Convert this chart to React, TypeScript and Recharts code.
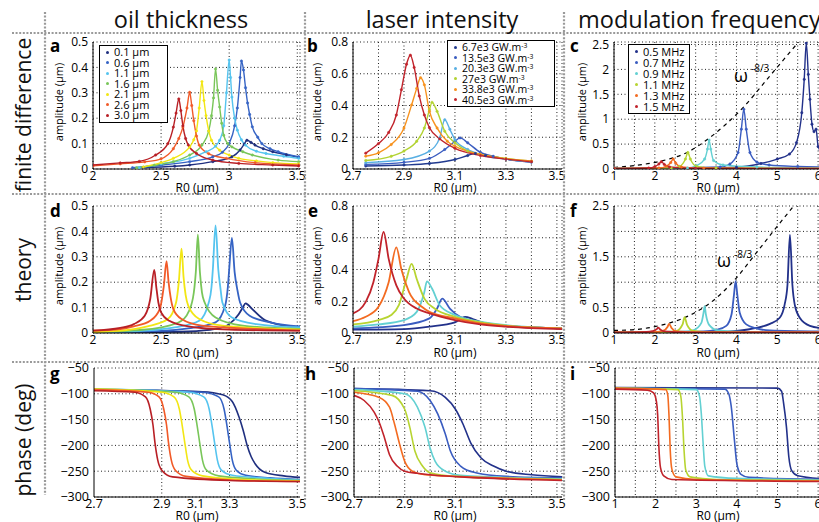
import React from 'react';
import { LineChart, Line, XAxis, YAxis, CartesianGrid, ReferenceLine } from 'recharts';

const FONT = '"Open Sans", "DejaVu Sans", sans-serif';

// series colours and legend labels
const OIL_COLORS = ['#1f2f7f', '#3563c4', '#55c4ef', '#79c659', '#f2e614', '#f15a28', '#b81f25'];
const OIL_LABELS = ['0.1 µm', '0.6 µm', '1.1 µm', '1.6 µm', '2.1 µm', '2.6 µm', '3.0 µm'];
const LASER_COLORS = ['#213a8f', '#3a5cc0', '#58afe3', '#b3d333', '#f7921e', '#c1232b'];
const LASER_LABELS = ['6.7e3', '13.5e3', '20.3e3', '27e3', '33.8e3', '40.5e3'];
const FREQ_COLORS = ['#22318a', '#3a5cc0', '#63d0d2', '#b7d431', '#f36b21', '#c1232b'];
const FREQ_LABELS = ['0.5 MHz', '0.7 MHz', '0.9 MHz', '1.1 MHz', '1.3 MHz', '1.5 MHz'];

// ticks / tick labels
const X1_TICKS = [2, 2.5, 3, 3.5];
const X1_LABELS = ['2', '2.5', '3', '3.5'];
const X2_TICKS = [2.7, 2.8, 2.9, 3.0, 3.1, 3.2, 3.3, 3.4, 3.5];
const X2_LABELS = ['2.7', '', '2.9', '', '3.1', '', '3.3', '', '3.5'];
const X3_TICKS = [1, 1.5, 2, 2.5, 3, 3.5, 4, 4.5, 5, 5.5, 6];
const X3_LABELS = ['1', '', '2', '', '3', '', '4', '', '5', '', '6'];
const G_TICKS = [2, 2.5, 2.75, 3, 3.5];
const G_LABELS = ['2.7', '2.9', '3.1', '3.3', '3.5'];
const G_GRID = [2.5, 3, 3.5];
const AMP1_TICKS = [0, 0.1, 0.2, 0.3, 0.4, 0.5];
const AMP1_LABELS = ['0', '0.1', '0.2', '0.3', '0.4', '0.5'];
const AMP2_TICKS = [0, 0.2, 0.4, 0.6, 0.8];
const AMP2_LABELS = ['0', '0.2', '0.4', '0.6', '0.8'];
const AMP3_TICKS = [0, 0.5, 1, 1.5, 2, 2.5];
const C_YLABELS = ['0', '0.5', '1', '1.5', '2', '2.5'];
const F_YLABELS = ['0', '0.5', '', '1.5', '', '2.5'];
const PHASE_TICKS = [-300, -250, -200, -150, -100, -50];
const PHASE_LABELS = ['−300', '−250', '−200', '−150', '−100', '−50'];

// a: finite difference, oil thickness
const A_01 = [[2.37,0.006],[2.6,0.011],[2.71,0.016],[2.88,0.029],[3.02,0.048],[3.08,0.075],[3.11,0.098],[3.13,0.113],[3.16,0.105],[3.19,0.094],[3.25,0.08],[3.32,0.068],[3.42,0.056],[3.51,0.046]];
const A_06 = [[2.29,0.005],[2.5,0.015],[2.71,0.029],[2.88,0.048],[2.95,0.066],[3.0,0.1],[3.04,0.17],[3.06,0.24],[3.08,0.36],[3.09,0.425],[3.105,0.39],[3.12,0.32],[3.135,0.26],[3.15,0.215],[3.17,0.166],[3.21,0.125],[3.24,0.1],[3.3,0.08],[3.36,0.068],[3.51,0.048]];
const A_11 = [[2.34,0.005],[2.5,0.02],[2.71,0.042],[2.83,0.068],[2.9,0.09],[2.93,0.113],[2.96,0.17],[2.98,0.3],[3.0,0.429],[3.01,0.36],[3.02,0.283],[3.04,0.2],[3.06,0.153],[3.09,0.115],[3.12,0.094],[3.2,0.07],[3.27,0.061],[3.4,0.05],[3.51,0.042]];
const A_16 = [[2.32,0.005],[2.45,0.015],[2.59,0.029],[2.71,0.055],[2.8,0.094],[2.85,0.15],[2.87,0.21],[2.885,0.28],[2.9,0.394],[2.915,0.31],[2.93,0.244],[2.945,0.18],[2.96,0.133],[2.99,0.1],[3.02,0.087],[3.1,0.068],[3.17,0.055],[3.36,0.035],[3.51,0.029]];
const A_21 = [[2.37,0.008],[2.5,0.025],[2.59,0.042],[2.71,0.087],[2.74,0.115],[2.76,0.15],[2.78,0.24],[2.8,0.344],[2.815,0.27],[2.83,0.21],[2.85,0.15],[2.87,0.113],[2.93,0.074],[3.0,0.055],[3.07,0.042],[3.2,0.032],[3.32,0.025],[3.51,0.02]];
const A_26 = [[2.0,0.012],[2.2,0.02],[2.38,0.028],[2.5,0.04],[2.59,0.08],[2.63,0.12],[2.66,0.165],[2.69,0.24],[2.71,0.302],[2.725,0.25],[2.74,0.19],[2.76,0.13],[2.78,0.094],[2.85,0.06],[2.98,0.042],[3.19,0.025],[3.51,0.016]];
const A_30 = [[2.0,0.016],[2.2,0.024],[2.34,0.03],[2.46,0.055],[2.55,0.1],[2.59,0.165],[2.61,0.22],[2.63,0.276],[2.645,0.23],[2.66,0.17],[2.68,0.12],[2.7,0.094],[2.76,0.061],[2.88,0.035],[3.07,0.022],[3.32,0.016],[3.51,0.012]];

// b: finite difference, laser intensity
const B_67 = [[2.75,0.019],[2.9,0.025],[3.0,0.035],[3.1,0.06],[3.15,0.085],[3.18,0.098],[3.22,0.086],[3.3,0.062],[3.4,0.044]];
const B_135 = [[2.75,0.029],[2.9,0.042],[3.0,0.067],[3.06,0.123],[3.1,0.175],[3.12,0.196],[3.15,0.165],[3.2,0.105],[3.25,0.08],[3.3,0.062],[3.4,0.044]];
const B_203 = [[2.75,0.04],[2.9,0.06],[3.0,0.113],[3.04,0.196],[3.06,0.31],[3.08,0.25],[3.1,0.185],[3.15,0.123],[3.2,0.09],[3.3,0.062],[3.4,0.045]];
const B_27 = [[2.75,0.054],[2.85,0.08],[2.9,0.113],[2.95,0.175],[2.98,0.258],[3.0,0.373],[3.01,0.42],[3.03,0.363],[3.06,0.238],[3.1,0.165],[3.15,0.113],[3.2,0.092],[3.3,0.067],[3.4,0.05]];
const B_338 = [[2.75,0.081],[2.8,0.102],[2.85,0.154],[2.9,0.258],[2.93,0.404],[2.95,0.508],[2.965,0.575],[2.98,0.53],[3.0,0.363],[3.03,0.258],[3.07,0.175],[3.1,0.144],[3.2,0.092],[3.3,0.065],[3.4,0.05]];
const B_405 = [[2.75,0.1],[2.8,0.16],[2.84,0.23],[2.87,0.34],[2.89,0.5],[2.91,0.66],[2.925,0.717],[2.94,0.64],[2.96,0.46],[2.98,0.34],[3.0,0.26],[3.04,0.19],[3.1,0.13],[3.2,0.085],[3.3,0.062],[3.4,0.046]];

// c: finite difference, modulation frequency
const C_05 = [[1,0.01],[3,0.012],[4,0.035],[4.6,0.11],[5.0,0.2],[5.3,0.3],[5.47,0.53],[5.6,1.13],[5.66,1.8],[5.71,2.53],[5.76,1.9],[5.8,1.4],[5.85,0.9],[5.9,0.75],[5.95,0.8],[6.0,0.45],[6.05,0.38],[6.12,0.3]];
const C_07 = [[1,0.01],[3.6,0.04],[3.84,0.1],[4.04,0.33],[4.12,0.8],[4.18,1.2],[4.24,0.8],[4.33,0.33],[4.5,0.14],[4.8,0.08],[5.5,0.05],[6.12,0.04]];
const C_09 = [[1,0.01],[2.8,0.02],[3.02,0.067],[3.22,0.2],[3.29,0.4],[3.33,0.58],[3.37,0.4],[3.44,0.17],[3.67,0.08],[4.5,0.04],[6.12,0.02]];
const C_11 = [[1,0.01],[2.4,0.02],[2.61,0.053],[2.75,0.2],[2.81,0.33],[2.87,0.2],[3.02,0.053],[3.5,0.02],[6.12,0.01]];
const C_13 = [[1,0.01],[2.1,0.02],[2.28,0.053],[2.39,0.13],[2.45,0.2],[2.51,0.12],[2.65,0.04],[3.2,0.015],[6.12,0.01]];
const C_15 = [[1,0.012],[1.85,0.02],[2.0,0.047],[2.1,0.1],[2.16,0.147],[2.23,0.093],[2.36,0.04],[3.0,0.015],[6.12,0.01]];
const C_SLOPE = [[1,0.03],[1.5,0.07],[2.16,0.16],[2.81,0.34],[3.33,0.62],[4.18,1.25],[4.82,1.87],[5.52,2.55]];

// d: theory, oil thickness
const D_01 = [[2.0,0.002],[2.5,0.004],[2.7,0.006],[2.9,0.016],[3.0,0.035],[3.07,0.074],[3.1,0.1],[3.12,0.117],[3.14,0.11],[3.17,0.094],[3.25,0.055],[3.35,0.035],[3.52,0.022]];
const D_06 = [[2.0,0.002],[2.5,0.008],[2.7,0.018],[2.9,0.042],[2.97,0.107],[2.99,0.18],[3.0,0.25],[3.02,0.374],[3.04,0.24],[3.06,0.17],[3.08,0.12],[3.15,0.068],[3.3,0.042],[3.52,0.026]];
const D_11 = [[2.0,0.002],[2.4,0.01],[2.6,0.022],[2.78,0.048],[2.85,0.12],[2.87,0.18],[2.88,0.25],[2.9,0.424],[2.92,0.25],[2.935,0.18],[2.95,0.12],[3.02,0.061],[3.2,0.035],[3.52,0.022]];
const D_16 = [[2.0,0.003],[2.3,0.01],[2.5,0.022],[2.65,0.048],[2.72,0.107],[2.745,0.18],[2.755,0.24],[2.77,0.387],[2.785,0.24],[2.8,0.16],[2.82,0.12],[2.9,0.061],[3.1,0.029],[3.52,0.016]];
const D_21 = [[2.0,0.003],[2.3,0.015],[2.4,0.026],[2.55,0.055],[2.61,0.12],[2.63,0.2],[2.65,0.332],[2.665,0.22],[2.68,0.15],[2.7,0.107],[2.78,0.055],[2.95,0.029],[3.52,0.013]];
const D_26 = [[2.0,0.009],[2.2,0.015],[2.3,0.026],[2.42,0.048],[2.49,0.094],[2.52,0.185],[2.54,0.283],[2.555,0.2],[2.57,0.14],[2.59,0.094],[2.65,0.055],[2.8,0.029],[3.2,0.016],[3.52,0.009]];
const D_30 = [[2.0,0.009],[2.2,0.02],[2.3,0.035],[2.38,0.068],[2.42,0.133],[2.45,0.248],[2.465,0.18],[2.48,0.12],[2.5,0.081],[2.56,0.048],[2.7,0.026],[3.0,0.013],[3.52,0.009]];

// e: theory, laser intensity
const E_NAV = [[2.7,0.021],[2.9,0.025],[3.0,0.04],[3.1,0.067],[3.14,0.102],[3.17,0.088],[3.22,0.06],[3.3,0.044],[3.52,0.029]];
const E_BLU = [[2.7,0.029],[2.9,0.05],[3.0,0.092],[3.03,0.154],[3.05,0.217],[3.08,0.154],[3.12,0.102],[3.2,0.067],[3.3,0.046],[3.52,0.029]];
const E_TUR = [[2.7,0.04],[2.8,0.054],[2.9,0.081],[2.95,0.133],[2.98,0.258],[2.99,0.325],[3.01,0.28],[3.04,0.175],[3.1,0.113],[3.2,0.071],[3.3,0.05],[3.52,0.029]];
const E_LIM = [[2.7,0.054],[2.8,0.081],[2.85,0.113],[2.88,0.175],[2.91,0.34],[2.93,0.435],[2.95,0.34],[2.98,0.217],[3.02,0.154],[3.1,0.102],[3.2,0.067],[3.3,0.046],[3.52,0.029]];
const E_ORA = [[2.7,0.075],[2.75,0.102],[2.8,0.165],[2.84,0.32],[2.87,0.54],[2.89,0.4],[2.92,0.258],[2.97,0.165],[3.0,0.133],[3.1,0.092],[3.2,0.06],[3.3,0.044],[3.52,0.029]];
const E_RED = [[2.7,0.123],[2.75,0.196],[2.78,0.32],[2.8,0.467],[2.82,0.637],[2.84,0.467],[2.87,0.3],[2.9,0.217],[2.95,0.154],[3.0,0.123],[3.1,0.081],[3.2,0.054],[3.3,0.04],[3.52,0.025]];

// f: theory, modulation frequency
const F_05 = [[1,0.01],[3.6,0.02],[4.0,0.04],[4.49,0.1],[4.82,0.18],[5.06,0.3],[5.18,0.56],[5.25,0.95],[5.31,1.93],[5.37,0.95],[5.43,0.55],[5.55,0.3],[5.8,0.14],[6.12,0.09]];
const F_07 = [[1,0.01],[3.2,0.03],[3.51,0.06],[3.75,0.14],[3.88,0.37],[3.94,0.76],[3.98,1.02],[4.02,0.76],[4.08,0.4],[4.24,0.17],[4.49,0.09],[4.82,0.05],[6.12,0.03]];
const F_09 = [[1,0.01],[2.8,0.03],[2.94,0.05],[3.14,0.2],[3.2,0.43],[3.22,0.53],[3.25,0.37],[3.33,0.16],[3.55,0.05],[4.2,0.02],[6.12,0.01]];
const F_11 = [[1,0.01],[2.3,0.02],[2.53,0.04],[2.68,0.17],[2.73,0.31],[2.79,0.16],[2.94,0.04],[3.4,0.015],[6.12,0.01]];
const F_13 = [[1,0.01],[2.05,0.02],[2.2,0.04],[2.31,0.12],[2.35,0.18],[2.41,0.1],[2.53,0.03],[3.2,0.01],[6.12,0.01]];
const F_15 = [[1,0.01],[1.8,0.02],[1.94,0.035],[2.04,0.07],[2.08,0.105],[2.14,0.065],[2.24,0.03],[2.8,0.01],[6.12,0.01]];
const F_SLOPE = [[1,0.05],[1.55,0.07],[2.08,0.14],[2.37,0.2],[2.86,0.35],[3.37,0.6],[3.96,1.05],[4.49,1.58],[4.9,2.0],[5.31,2.41],[5.4,2.5]];

// g: theory phase, oil thickness (drawn on the a/d axis)
const G_01 = [[2.0,-92],[2.8,-96],[2.95,-102],[3.02,-115],[3.07,-145],[3.1,-170],[3.13,-200],[3.16,-222],[3.19,-236],[3.26,-252],[3.4,-259],[3.52,-262]];
const G_06 = [[2.0,-92],[2.8,-97],[2.92,-106],[2.96,-130],[2.98,-160],[3.0,-195],[3.02,-228],[3.05,-248],[3.12,-258],[3.3,-263],[3.52,-266]];
const G_11 = [[2.0,-91],[2.7,-97],[2.81,-106],[2.85,-130],[2.87,-160],[2.89,-195],[2.91,-228],[2.94,-248],[3.02,-258],[3.3,-264],[3.52,-267]];
const G_16 = [[2.0,-91],[2.6,-97],[2.7,-106],[2.74,-130],[2.76,-160],[2.78,-195],[2.8,-228],[2.83,-248],[2.92,-259],[3.2,-265],[3.52,-268]];
const G_21 = [[2.0,-91],[2.5,-97],[2.59,-106],[2.63,-130],[2.65,-160],[2.67,-195],[2.69,-228],[2.72,-248],[2.8,-259],[3.1,-266],[3.52,-269]];
const G_26 = [[2.0,-92],[2.4,-97],[2.48,-106],[2.515,-130],[2.535,-160],[2.55,-195],[2.57,-228],[2.6,-248],[2.68,-260],[3.0,-267],[3.52,-270]];
const G_30 = [[2.0,-94],[2.3,-97],[2.38,-106],[2.415,-130],[2.435,-160],[2.45,-195],[2.47,-228],[2.5,-248],[2.58,-261],[3.0,-268],[3.52,-270]];

// h: theory phase, laser intensity
const H_NAV = [[2.7,-90],[3.0,-94],[3.06,-107],[3.1,-130],[3.13,-159],[3.16,-195],[3.2,-224],[3.25,-240],[3.3,-250],[3.4,-257],[3.52,-261]];
const H_BLU = [[2.7,-90],[2.95,-95],[3.0,-113],[3.03,-139],[3.06,-178],[3.08,-211],[3.12,-240],[3.18,-253],[3.3,-260],[3.52,-263]];
const H_TUR = [[2.7,-92],[2.9,-100],[2.95,-126],[2.98,-165],[3.0,-205],[3.02,-231],[3.06,-250],[3.12,-258],[3.52,-265]];
const H_LIM = [[2.7,-94],[2.85,-103],[2.9,-130],[2.92,-165],[2.94,-211],[2.97,-240],[3.0,-253],[3.1,-260],[3.52,-266]];
const H_ORA = [[2.7,-97],[2.8,-107],[2.84,-126],[2.86,-159],[2.88,-198],[2.9,-231],[2.93,-250],[2.98,-257],[3.2,-262],[3.52,-267]];
const H_RED = [[2.7,-103],[2.74,-113],[2.78,-136],[2.8,-156],[2.82,-185],[2.84,-218],[2.87,-240],[2.9,-250],[2.95,-254],[3.0,-257],[3.2,-263],[3.52,-268]];

// i: theory phase, modulation frequency
const I_05 = [[1,-88],[5.0,-89],[5.1,-95],[5.15,-118],[5.22,-164],[5.28,-223],[5.35,-249],[5.5,-259],[6.12,-265]];
const I_07 = [[1,-89],[3.7,-91],[3.8,-100],[3.86,-124],[3.94,-190],[4.0,-236],[4.1,-256],[4.3,-262],[6.12,-266]];
const I_09 = [[1,-89],[3.0,-92],[3.08,-105],[3.12,-134],[3.17,-197],[3.21,-240],[3.3,-259],[4.0,-264],[6.12,-267]];
const I_11 = [[1,-89],[2.55,-92],[2.62,-105],[2.66,-144],[2.7,-210],[2.74,-247],[2.85,-261],[3.5,-266],[6.12,-268]];
const I_13 = [[1,-89],[2.25,-92],[2.3,-103],[2.33,-144],[2.36,-210],[2.4,-246],[2.5,-261],[3.0,-266],[6.12,-269]];
const I_15 = [[1,-91],[1.8,-93],[1.95,-98],[2.02,-115],[2.05,-140],[2.08,-203],[2.12,-243],[2.2,-259],[2.4,-266],[6.12,-270]];

const lab = (ticks: number[], labels: string[]) => (v: number) => {
  const i = ticks.findIndex(t => Math.abs(t - v) < 1e-6);
  return i >= 0 ? labels[i] : '';
};

const toPts = (c: number[][]) => c.map(([x, y]) => ({ x, y }));

interface PanelProps {
  left: number; top: number; w: number; h: number;
  xDomain: number[]; yDomain: number[];
  xTicks: number[]; xLabels: string[];
  yTicks: number[]; yLabels: string[];
  curves: number[][][]; colors: string[];
  dots?: boolean; slope?: number[][]; font: number; lw: number;
  vGrid?: number[];
}

function Panel(p: PanelProps) {
  const tick = { fill: '#000', fontSize: p.font, fontFamily: FONT };
  return (
    <div style={{ position: 'absolute', left: p.left - 45, top: p.top - 10 }}>
      <LineChart width={p.w + 60} height={p.h + 35} margin={{ top: 10, right: 15, left: 0, bottom: 0 }}>
        <CartesianGrid stroke="#222" strokeDasharray="1 2.5" vertical={!p.vGrid} />
        <XAxis type="number" dataKey="x" domain={p.xDomain} ticks={p.xTicks} interval={0}
          tickFormatter={lab(p.xTicks, p.xLabels)} allowDataOverflow height={25}
          tickLine={false} tickSize={1} tickMargin={1} stroke="#000" tick={tick} />
        <YAxis type="number" domain={p.yDomain} ticks={p.yTicks} interval={0}
          tickFormatter={lab(p.yTicks, p.yLabels)} allowDataOverflow width={45}
          tickLine={false} tickSize={2} tickMargin={3} stroke="#000" tick={tick} />
        {p.vGrid && p.vGrid.map(v => (
          <ReferenceLine key={v} x={v} stroke="#222" strokeDasharray="1 2.5" />
        ))}
        {p.slope && (
          <Line data={toPts(p.slope)} dataKey="y" type="monotone" stroke="#000" strokeWidth={1.2}
            strokeDasharray="4 4" dot={false} activeDot={false} isAnimationActive={false} />
        )}
        {p.curves.map((c, i) => (
          <Line key={i} data={toPts(c)} dataKey="y" type="monotone" stroke={p.colors[i]}
            strokeWidth={p.lw} isAnimationActive={false} activeDot={false}
            dot={p.dots ? { r: 1.2, fill: p.colors[i], stroke: p.colors[i], strokeWidth: 0.5 } : false} />
        ))}
      </LineChart>
    </div>
  );
}

function LegendBox({ left, top, width, labels, colors, rowH, font, unit }: {
  left: number; top: number; width: number; labels: string[]; colors: string[];
  rowH: number; font: number; unit?: boolean;
}) {
  return (
    <div style={{ position: 'absolute', left, top, width, border: '1.3px solid #000', background: '#fff',
      padding: '1px 0 1px', boxSizing: 'border-box', fontFamily: FONT, fontSize: font, color: '#000' }}>
      {labels.map((l, i) => (
        <div key={l} style={{ height: rowH, lineHeight: `${rowH}px`, display: 'flex', alignItems: 'center', whiteSpace: 'nowrap' }}>
          <span style={{ display: 'inline-block', width: 3, height: 3, borderRadius: 2, background: colors[i], margin: '0 5px 0 6px' }} />
          <span>
            {l}
            {unit && <> GW.m<span style={{ fontSize: '0.65em', verticalAlign: '0.45em', lineHeight: 0 }}>-3</span></>}
          </span>
        </div>
      ))}
    </div>
  );
}

const R1 = { top: 42, h: 127 };
const R2 = { top: 206, h: 127 };
const R3 = { top: 368, h: 129 };
const C1 = { left: 93, w: 207 };
const C2 = { left: 353, w: 209 };
const C3 = { left: 614, w: 209 };
const X1 = [2, 3.52];
const X2 = [2.7, 3.52];
const X3 = [1, 6.12];

const SEP = { stroke: '#9a9a9a', strokeWidth: 2.2, strokeDasharray: '2 1.6' };

export default function App() {
  const oilTicks = { xTicks: X1_TICKS, xLabels: X1_LABELS };
  const laserTicks = { xTicks: X2_TICKS, xLabels: X2_LABELS };
  const freqTicks = { xTicks: X3_TICKS, xLabels: X3_LABELS };
  const phase = { yDomain: [-300, -50], yTicks: PHASE_TICKS, yLabels: PHASE_LABELS, font: 12.5, lw: 1.6 };
  return (
    <div style={{ position: 'absolute', left: 0, top: 0, width: 819, height: 522, overflow: 'hidden', background: '#fff', fontFamily: FONT }}>
      {/* row 1: finite difference */}
      <Panel {...R1} {...C1} xDomain={X1} yDomain={[0, 0.5]} {...oilTicks} yTicks={AMP1_TICKS} yLabels={AMP1_LABELS}
        curves={[A_01, A_06, A_11, A_16, A_21, A_26, A_30]} colors={OIL_COLORS} dots font={12} lw={1.4} />
      <Panel {...R1} {...C2} xDomain={X2} yDomain={[0, 0.8]} {...laserTicks} yTicks={AMP2_TICKS} yLabels={AMP2_LABELS}
        curves={[B_67, B_135, B_203, B_27, B_338, B_405]} colors={LASER_COLORS} dots font={12} lw={1.4} />
      <Panel {...R1} {...C3} xDomain={X3} yDomain={[0, 2.55]} {...freqTicks} yTicks={AMP3_TICKS} yLabels={C_YLABELS}
        curves={[C_05, C_07, C_09, C_11, C_13, C_15]} colors={FREQ_COLORS} dots slope={C_SLOPE} font={12} lw={1.4} />

      {/* row 2: theory */}
      <Panel {...R2} {...C1} xDomain={X1} yDomain={[0, 0.5]} {...oilTicks} yTicks={AMP1_TICKS} yLabels={AMP1_LABELS}
        curves={[D_01, D_06, D_11, D_16, D_21, D_26, D_30]} colors={OIL_COLORS} font={12} lw={1.8} />
      <Panel {...R2} {...C2} xDomain={X2} yDomain={[0, 0.8]} {...laserTicks} yTicks={AMP2_TICKS} yLabels={AMP2_LABELS}
        curves={[E_NAV, E_BLU, E_TUR, E_LIM, E_ORA, E_RED]} colors={FREQ_COLORS} font={12} lw={1.8} />
      <Panel {...R2} {...C3} xDomain={X3} yDomain={[0, 2.5]} {...freqTicks} yTicks={AMP3_TICKS} yLabels={F_YLABELS}
        curves={[F_05, F_07, F_09, F_11, F_13, F_15]} colors={FREQ_COLORS} slope={F_SLOPE} font={12} lw={1.8} />

      {/* row 3: phase */}
      <Panel {...R3} left={94} w={206} xDomain={X1} xTicks={G_TICKS} xLabels={G_LABELS} vGrid={G_GRID} {...phase}
        curves={[G_01, G_06, G_11, G_16, G_21, G_26, G_30]} colors={OIL_COLORS} />
      <Panel {...R3} left={354} w={208} xDomain={X2} {...laserTicks} {...phase}
        curves={[H_NAV, H_BLU, H_TUR, H_LIM, H_ORA, H_RED]} colors={FREQ_COLORS} />
      <Panel {...R3} left={615} w={208} xDomain={X3} {...freqTicks} {...phase}
        curves={[I_05, I_07, I_09, I_11, I_13, I_15]} colors={FREQ_COLORS} />

      <LegendBox left={99} top={45} width={69} labels={OIL_LABELS} colors={OIL_COLORS} rowH={10.5} font={11} />
      <LegendBox left={447} top={40} width={108} labels={LASER_LABELS} colors={LASER_COLORS} rowH={10.5} font={10.5} unit />
      <LegendBox left={628} top={44} width={62} labels={FREQ_LABELS} colors={FREQ_COLORS} rowH={11} font={11} />

      <svg width={819} height={522} style={{ position: 'absolute', left: 0, top: 0, pointerEvents: 'none' }}
        fontFamily={FONT}>
        <line x1={12} y1={33} x2={819} y2={33} {...SEP} />
        <line x1={12} y1={194} x2={819} y2={194} {...SEP} />
        <line x1={12} y1={362} x2={819} y2={362} {...SEP} />
        <line x1={45} y1={12} x2={45} y2={495} {...SEP} />
        <line x1={305} y1={12} x2={305} y2={500} {...SEP} />
        <line x1={564} y1={12} x2={564} y2={500} {...SEP} />

        <g fontSize={23.5} fill="#111">
          <text x={181} y={28} textAnchor="middle">oil thickness</text>
          <text x={442} y={28} textAnchor="middle">laser intensity</text>
          <text x={578} y={28}>modulation frequency</text>
        </g>
        <g fontSize={21} fill="#111" textAnchor="middle">
          <text transform="translate(31,115) rotate(-90)">finite difference</text>
          <text transform="translate(31,270) rotate(-90)">theory</text>
          <text transform="translate(31,440) rotate(-90)">phase (deg)</text>
        </g>

        <g fontSize={17} fontWeight="bold" fill="#000">
          <text x={50} y={52}>a</text>
          <text x={307} y={52}>b</text>
          <text x={570} y={52}>c</text>
          <text x={50} y={217}>d</text>
          <text x={308} y={217}>e</text>
          <text x={570} y={217}>f</text>
          <text x={50} y={380}>g</text>
          <text x={305} y={380}>h</text>
          <text x={570} y={380}>i</text>
        </g>

        <g fontSize={11} fill="#000" textAnchor="middle">
          <text transform="translate(63,102) rotate(-90)">amplitude (µm)</text>
          <text transform="translate(321,102) rotate(-90)">amplitude (µm)</text>
          <text transform="translate(586,102) rotate(-90)">amplitude (µm)</text>
          <text transform="translate(63,266) rotate(-90)">amplitude (µm)</text>
          <text transform="translate(321,266) rotate(-90)">amplitude (µm)</text>
          <text transform="translate(586,266) rotate(-90)">amplitude (µm)</text>
        </g>

        <g fontSize={12} fill="#000" textAnchor="middle">
          <text x={197} y={192}>R0 (µm)</text>
          <text x={455} y={192}>R0 (µm)</text>
          <text x={718} y={192}>R0 (µm)</text>
          <text x={197} y={357}>R0 (µm)</text>
          <text x={455} y={357}>R0 (µm)</text>
          <text x={718} y={357}>R0 (µm)</text>
          <text x={197} y={520}>R0 (µm)</text>
          <text x={455} y={520}>R0 (µm)</text>
          <text x={718} y={520}>R0 (µm)</text>
        </g>

        <g fill="#000">
          <text x={734} y={82} fontSize={18}>ω</text>
          <text x={751} y={72} fontSize={10}>-8/3</text>
          <text x={717} y={267} fontSize={18}>ω</text>
          <text x={734} y={258} fontSize={10}>-8/3</text>
        </g>
      </svg>
    </div>
  );
}
